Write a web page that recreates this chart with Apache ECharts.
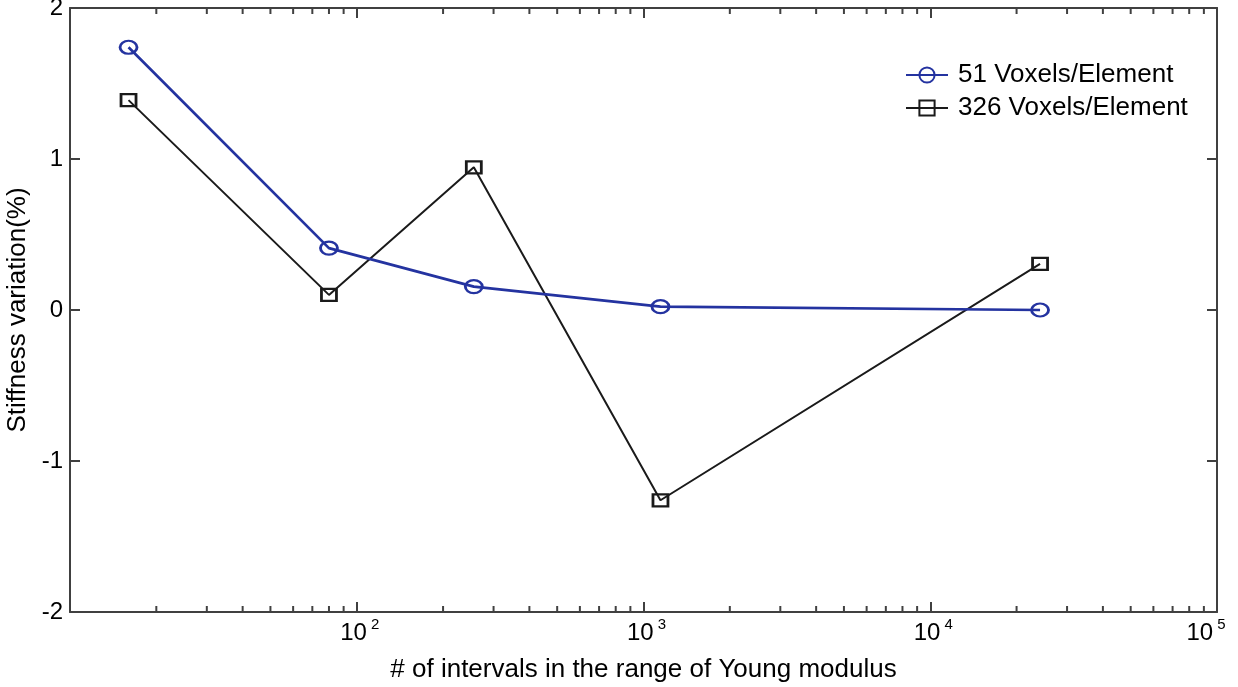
<!DOCTYPE html>
<html>
<head>
<meta charset="utf-8">
<script src="https://cdn.jsdelivr.net/npm/echarts@6/dist/echarts.min.js"></script>
<style>
html,body{margin:0;padding:0;background:#fff;}
#chart{width:1238px;height:687px;}
</style>
</head>
<body>
<div id="chart"></div>
<script>
// ---- data ----
const xValues = [16, 80, 256, 1146, 24150];
const seriesNames = ['51 Voxels/Element', '326 Voxels/Element'];
const voxels51 = [1.74, 0.41, 0.155, 0.022, 0.0];
const voxels326 = [1.39, 0.10, 0.945, -1.26, 0.305];
const yTicks = [-2, -1, 0, 1, 2];
const minorMantissas = [2, 3, 4, 5, 6, 7, 8, 9];
const minorDecades = [10, 100, 1000, 10000];

const FONT = '"Liberation Sans", Arial, sans-serif';
const AX = '#404040';
const BLUE = '#2433a0';
const BLACK = '#1a1a1a';

const minorTicks = [];
minorDecades.forEach(d => minorMantissas.forEach(m => minorTicks.push(m * d)));

const pairs = (ys) => xValues.map((x, i) => [x, ys[i]]);

function xLabel(v) {
  const e = Math.round(Math.log10(v));
  if (e <= 1) return '';
  if (e >= 5) return '{c|10}{t|' + e + '}';
  return '{b|10}{s|' + e + '}';
}

const baseX = {
  type: 'log', logBase: 10, min: 10, max: 100000, splitNumber: 4,
  axisLine: {show: true, onZero: false, lineStyle: {color: AX, width: 2}},
  axisTick: {show: true, inside: true, length: 10, lineStyle: {color: AX, width: 2}},
  minorTick: {show: false},
  splitLine: {show: false}
};
const baseY = {
  type: 'value', min: -2, max: 2, interval: 1,
  axisLine: {show: true, onZero: false, lineStyle: {color: AX, width: 2}},
  axisTick: {show: true, inside: true, length: 10, lineStyle: {color: AX, width: 2}},
  splitLine: {show: false}
};

const supStyle = {fontFamily: FONT, fontSize: 15, color: '#000', lineHeight: 15, verticalAlign: 'top'};
const baseStyle = {fontFamily: FONT, fontSize: 24, color: '#000', lineHeight: 28, verticalAlign: 'bottom'};

const chart = echarts.init(document.getElementById('chart'), null, {renderer: 'canvas'});
chart.setOption({
  animation: false,
  backgroundColor: '#fff',
  grid: {left: 70, right: 21, top: 8, bottom: 75, containLabel: false, outerBoundsMode: 'none'},
  legend: {
    data: seriesNames,
    orient: 'vertical',
    left: 900, top: 57,
    itemWidth: 42, itemHeight: 19, itemGap: 7,
    textStyle: {fontFamily: FONT, fontSize: 26, color: '#000', lineHeight: 26, padding: [0, 0, 0, 5]}
  },
  xAxis: [
    Object.assign({}, baseX, {
      position: 'bottom',
      name: '# of intervals in the range of Young modulus',
      nameLocation: 'middle', nameGap: 45,
      nameTextStyle: {fontFamily: FONT, fontSize: 26, color: '#000'},
      axisLabel: {
        show: true, margin: 5, formatter: xLabel,
        rich: {
          b: Object.assign({}, baseStyle, {padding: [0, 0, 0, 6]}),
          s: Object.assign({}, supStyle, {padding: [0, 0, 0, 4]}),
          c: Object.assign({}, baseStyle, {padding: [0, 0, 0, 0]}),
          t: Object.assign({}, supStyle, {padding: [0, 22, 0, 4]})
        }
      }
    }),
    Object.assign({}, baseX, {position: 'top', axisLabel: {show: false}})
  ],
  yAxis: [
    Object.assign({}, baseY, {
      position: 'left',
      name: 'Stiffness variation(%)',
      nameLocation: 'middle', nameGap: 31, nameRotate: 90,
      nameTextStyle: {fontFamily: FONT, fontSize: 26, color: '#000'},
      axisLabel: {show: true, margin: 7, fontFamily: FONT, fontSize: 24, color: '#000',
        formatter: v => yTicks.indexOf(v) >= 0 ? String(v) : ''}
    }),
    Object.assign({}, baseY, {position: 'right', axisLabel: {show: false}})
  ],
  series: [
    {
      type: 'custom', name: 'minorTicks', silent: true, clip: false,
      xAxisIndex: 0, yAxisIndex: 0,
      data: minorTicks.map(v => [v, 0]),
      encode: {x: 0, y: 1},
      renderItem: function (params, api) {
        const v = api.value(0);
        const pb = api.coord([v, -2]);
        const pt = api.coord([v, 2]);
        const st = {stroke: AX, lineWidth: 2};
        return {type: 'group', children: [
          {type: 'line', shape: {x1: pb[0], y1: pb[1], x2: pb[0], y2: pb[1] - 6}, style: st},
          {type: 'line', shape: {x1: pt[0], y1: pt[1], x2: pt[0], y2: pt[1] + 6}, style: st}
        ]};
      }
    },
    {
      type: 'line', name: seriesNames[0], data: pairs(voxels51),
      symbol: 'circle', symbolSize: [17, 13], showAllSymbol: true,
      lineStyle: {color: BLUE, width: 2.7},
      itemStyle: {color: 'rgba(255,255,255,0)', borderColor: BLUE, borderWidth: 2.5},
      z: 3
    },
    {
      type: 'line', name: seriesNames[1], data: pairs(voxels326),
      symbol: 'rect', symbolSize: [15, 12], showAllSymbol: true,
      lineStyle: {color: BLACK, width: 2},
      itemStyle: {color: 'rgba(255,255,255,0)', borderColor: BLACK, borderWidth: 2.5},
      z: 2
    }
  ]
});
</script>
</body>
</html>
